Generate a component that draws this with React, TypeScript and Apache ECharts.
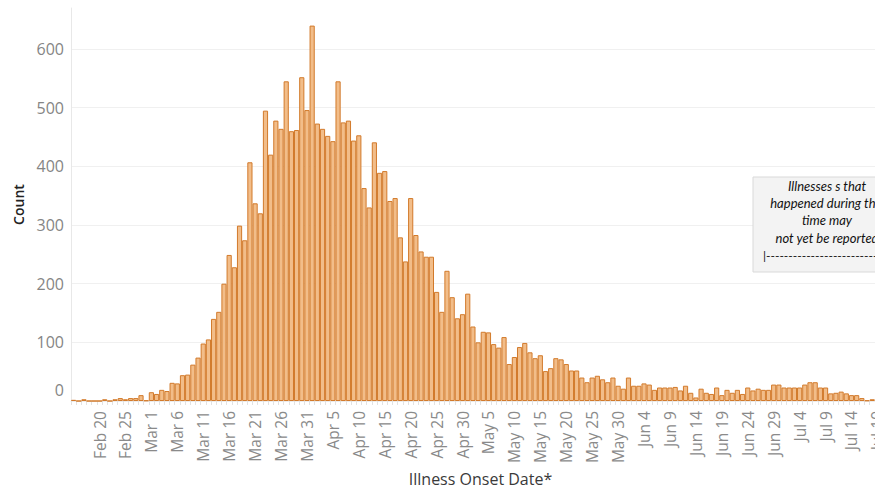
import React, { useEffect, useRef } from "react";
import * as echarts from "echarts";

// Daily illness counts by onset date (2020)
const febCounts = [2, 0, 3, 0, 0, 0, 3, 0, 3, 5, 3, 5, 5, 10, 1]; // Feb 15–29
const marCounts = [
  15, 12, 19, 17, 31, 30, 44, 45, 62, 74, 98, 105, 140, 152, 200, 249, 228, 299, 274, 407,
  337, 320, 495, 420, 478, 464, 545, 460, 462, 552, 496,
];
const aprCounts = [
  640, 473, 464, 452, 443, 545, 475, 478, 444, 453, 363, 330, 441, 389, 392, 341, 346, 279,
  238, 346, 283, 255, 246, 246, 186, 152, 222, 177, 141, 148,
];
const mayCounts = [
  183, 127, 100, 118, 117, 97, 91, 109, 63, 75, 92, 99, 83, 73, 78, 51, 56, 73, 71, 63, 52,
  52, 40, 32, 40, 43, 37, 32, 40, 26, 21,
];
const junCounts = [
  40, 26, 26, 30, 28, 19, 23, 23, 23, 24, 18, 26, 14, 6, 21, 14, 12, 23, 10, 19, 14, 19, 12,
  23, 18, 21, 19, 19, 28, 28,
];
const julCounts = [23, 23, 23, 23, 28, 32, 32, 23, 23, 13, 14, 16, 13, 10, 10, 5, 1, 3, 2]; // Jul 1–19

const monthBlocks = [
  { name: "Feb", firstDay: 15, counts: febCounts },
  { name: "Mar", firstDay: 1, counts: marCounts },
  { name: "Apr", firstDay: 1, counts: aprCounts },
  { name: "May", firstDay: 1, counts: mayCounts },
  { name: "Jun", firstDay: 1, counts: junCounts },
  { name: "Jul", firstDay: 1, counts: julCounts },
];

const categories: string[] = [];
const counts: number[] = [];
monthBlocks.forEach((b) =>
  b.counts.forEach((c, i) => {
    categories.push(`${b.name} ${b.firstDay + i}`);
    counts.push(c);
  })
);

const yMin = 0;
const yMax = 670;
const yStep = 100;
const labelEvery = 5;

const xTitle = "Illness Onset Date*";
const yTitle = "Count";
const noteLines = ["Illnesses s that", "happened during this", "time may", "not yet be reported"];
const noteRule = "|" + "-".repeat(40);

const FONT = "'Open Sans', Lato, sans-serif";
const NOTE_FONT = "Lato, 'Open Sans', sans-serif";

export default function App() {
  const ref = useRef<HTMLDivElement>(null);

  useEffect(() => {
    if (!ref.current) return;
    document.body.style.margin = "0";
    document.body.style.overflow = "hidden";
    const chart = echarts.init(ref.current, null, { renderer: "svg" });

    const noteTexts = noteLines.map((t, i) => ({
      type: "text",
      x: 827,
      y: [186, 203, 220, 238][i],
      z: 101,
      style: {
        text: t,
        fill: "#111",
        fontSize: 13,
        fontStyle: "italic",
        fontFamily: NOTE_FONT,
        align: "center",
        verticalAlign: "middle",
        textAlign: "center",
        textVerticalAlign: "middle",
      },
    }));

    chart.setOption({
      animation: false,
      backgroundColor: "#ffffff",
      grid: {
        left: 71,
        right: 5,
        top: 8,
        bottom: 89,
        containLabel: false,
        outerBoundsMode: "none",
      },
      xAxis: {
        type: "category",
        data: categories,
        boundaryGap: true,
        axisLine: { show: true, lineStyle: { color: "#ececec" } },
        axisTick: { show: true, interval: 0, length: 4, lineStyle: { color: "#e2e2e2" } },
        axisLabel: {
          rotate: 90,
          interval: (i: number) => i > 0 && i % labelEvery === 0,
          color: "#8a8a8a",
          fontSize: 15.5,
          fontFamily: FONT,
          margin: 10,
        },
        name: xTitle,
        nameLocation: "middle",
        nameGap: 68,
        nameTextStyle: { fontSize: 16, color: "#3a3a3a", fontFamily: FONT, padding: [0, 0, 0, 10] },
      },
      yAxis: {
        type: "value",
        min: yMin,
        max: yMax,
        interval: yStep,
        axisLine: { show: true, lineStyle: { color: "#e8e8e8" } },
        axisTick: { show: false },
        splitLine: {
          show: true,
          showMinLine: false,
          showMaxLine: false,
          lineStyle: { color: "#f0f0f0" },
        },
        axisLabel: {
          color: "#858585",
          fontSize: 16,
          fontFamily: FONT,
          margin: 7,
          showMaxLabel: false,
          formatter: (v: number) => (v === 0 ? "{z|0}" : String(v)),
          rich: {
            z: { color: "#858585", fontSize: 16, fontFamily: FONT, padding: [0, 0, 22, 0] },
          },
        },
        name: yTitle,
        nameLocation: "middle",
        nameGap: 43,
        nameTextStyle: { fontSize: 14, color: "#222", fontFamily: FONT, fontWeight: 600 },
      },
      series: [
        {
          type: "bar",
          data: counts,
          barCategoryGap: "0%",
          itemStyle: { color: "#f2bd89", borderColor: "#d27a2b", borderWidth: 1 },
        },
      ],
      graphic: [
        {
          type: "rect",
          z: 100,
          shape: { x: 753, y: 177, width: 140, height: 95 },
          style: { fill: "#f3f3f3", stroke: "#d9d9d9", lineWidth: 1 },
        },
        ...noteTexts,
        {
          type: "text",
          x: 763,
          y: 255,
          z: 101,
          style: {
            text: noteRule,
            fill: "#111",
            fontSize: 12,
            fontFamily: NOTE_FONT,
            align: "left",
            verticalAlign: "middle",
            textAlign: "left",
            textVerticalAlign: "middle",
          },
        },
      ],
    });

    return () => chart.dispose();
  }, []);

  return (
    <div
      style={{
        position: "fixed",
        left: 0,
        top: 0,
        width: 875,
        height: 490,
        overflow: "hidden",
        background: "#fff",
      }}
    >
      <div ref={ref} style={{ width: 885, height: 490 }} />
    </div>
  );
}
